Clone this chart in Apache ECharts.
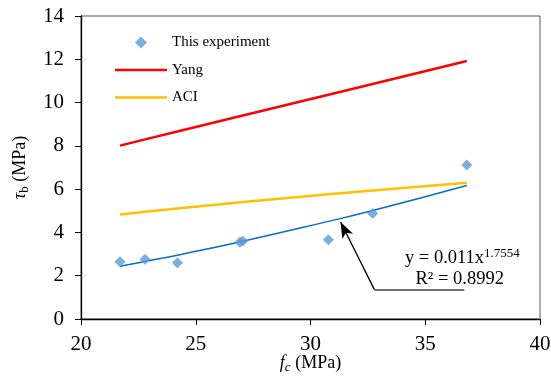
<!DOCTYPE html>
<html><head><meta charset="utf-8">
<script src="https://cdn.jsdelivr.net/npm/echarts@6/dist/echarts.min.js"></script>
<style>html,body{margin:0;padding:0;background:#fff}#c{width:551px;height:376px}</style>
</head><body><div id="c"></div>
<script>
// Experimental points (fc, tau_b)
var expFc  = [21.70, 22.79, 24.20, 26.92, 27.05, 30.78, 32.71, 36.81];
var expTau = [2.65, 2.76, 2.60, 3.55, 3.60, 3.66, 4.88, 7.12];
// Model curves read at the experimental fc values
var modelFc = [21.70, 22.79, 24.20, 26.96, 30.78, 32.71, 36.81];
var yangTau = [8.01, 8.30, 8.66, 9.38, 10.36, 10.86, 11.92];
var aciTau  = [4.83, 4.96, 5.11, 5.39, 5.76, 5.94, 6.30];
var fitTau  = [2.44, 2.66, 2.95, 3.57, 4.51, 5.01, 6.17];
var xTicks = [20, 25, 30, 35, 40];
var yTicks = [0, 2, 4, 6, 8, 10, 12, 14];
var eqText = 'y = 0.011x';
var eqExp = '1.7554';
var r2Text = 'R² = 0.8992';
// annotation anchor points (data space)
var arrowTip = [31.31, 4.48];
var arrowBase = [32.78, 1.37];
var leaderEnd = [36.70, 1.37];
var eqPos = [36.62, 2.80];
var r2Pos = [36.50, 1.84];

function pairs(xs, ys){ return xs.map(function(x,i){return [x, ys[i]];}); }
var FONT = '"Liberation Serif","Times New Roman",serif';
var corners = 'M0,0L0.01,0L0,0.01Z M52,14L51.99,14L52,13.99Z ';
var lineIcon = 'path://' + corners + 'M0,5.8L52,5.8L52,8.2L0,8.2Z';
var diamondIcon = 'path://' + corners + 'M26,1L32,7L26,13L20,7Z';
var chart = echarts.init(document.getElementById('c'));
chart.setOption({
  animation: false,
  textStyle: {fontFamily: FONT},
  grid: {left: 81, right: 11, top: 16, bottom: 57, show: true, borderColor: '#595959', borderWidth: 1,
         containLabel: false, outerBoundsMode: 'none'},
  legend: {
    orient: 'vertical', left: 110, top: 30, itemWidth: 52, itemHeight: 14, itemGap: 12.5,
    textStyle: {fontFamily: FONT, fontSize: 15, color: '#000'},
    data: [
      {name: 'This experiment', icon: diamondIcon, itemStyle: {color: '#5B9BD5'}},
      {name: 'Yang', icon: lineIcon, itemStyle: {color: '#FF0000'}},
      {name: 'ACI', icon: lineIcon, itemStyle: {color: '#FFC000'}}
    ]
  },
  xAxis: {
    type: 'value', min: xTicks[0], max: xTicks[xTicks.length-1], interval: 5,
    name: '{i|f}{s|c} (MPa)', nameLocation: 'middle', nameGap: 34, nameMoveOverlap: false,
    nameTextStyle: {fontFamily: FONT, fontSize: 18, color: '#000',
      rich: {i: {fontStyle: 'italic', fontSize: 18, fontFamily: FONT}, s: {fontStyle: 'italic', fontSize: 13, verticalAlign: 'bottom', padding: [8,0,0,0], fontFamily: FONT}}},
    axisLine: {lineStyle: {color: '#000', width: 1.3}},
    axisTick: {show: true, length: 6, lineStyle: {color: '#000'}},
    axisLabel: {fontFamily: FONT, fontSize: 21, color: '#000', margin: 15},
    splitLine: {show: false}
  },
  yAxis: {
    type: 'value', min: yTicks[0], max: yTicks[yTicks.length-1], interval: 2,
    name: '{t|τ}{s|b} (MPa)', nameLocation: 'middle', nameGap: 50, nameRotate: 90, nameMoveOverlap: false,
    nameTextStyle: {fontFamily: FONT, fontSize: 18, color: '#000',
      rich: {t: {fontStyle: 'italic', fontSize: 18, fontFamily: FONT}, s: {fontSize: 13, fontFamily: FONT, padding: [8,0,0,0]}}},
    axisLine: {show: true, lineStyle: {color: '#000', width: 1.3}},
    axisTick: {show: true, length: 6, lineStyle: {color: '#000'}},
    axisLabel: {fontFamily: FONT, fontSize: 21, color: '#000', margin: 17},
    splitLine: {show: false}
  },
  series: [
    {name: 'This experiment', type: 'scatter', symbol: 'diamond', symbolSize: 11,
     itemStyle: {color: '#5B9BD5'}, data: pairs(expFc, expTau), z: 5},
    {name: 'Yang', type: 'line', showSymbol: false, symbol: 'none', lineStyle: {color: '#FF0000', width: 2.5},
     itemStyle: {color: '#FF0000'}, data: pairs(modelFc, yangTau)},
    {name: 'ACI', type: 'line', showSymbol: false, symbol: 'none', lineStyle: {color: '#FFC000', width: 2.5},
     itemStyle: {color: '#FFC000'}, data: pairs(modelFc, aciTau)},
    {name: 'fit', type: 'line', smooth: true, showSymbol: false, symbol: 'none', lineStyle: {color: '#0070C0', width: 1.5},
     data: pairs(modelFc, fitTau),
     markLine: {silent: true, animation: false, label: {show: false},
       data: [
         [{coord: arrowBase, symbol: 'none', lineStyle: {color: '#000', width: 1.3, type: 'solid'}},
          {coord: arrowTip, symbol: 'arrow', symbolSize: [9, 16]}],
         [{coord: arrowBase, symbol: 'none', lineStyle: {color: '#404040', width: 1.5, type: 'solid'}},
          {coord: leaderEnd, symbol: 'none'}]
       ]},
     markPoint: {silent: true, symbol: 'rect', symbolSize: 1, itemStyle: {color: 'transparent'},
       data: [
         {coord: eqPos, label: {show: true, position: 'inside', fontFamily: FONT, fontSize: 18.5, color: '#000',
           formatter: '{a|' + eqText + '}{b|' + eqExp + '}',
           rich: {a: {fontFamily: FONT, fontSize: 18.5, color: '#000'}, b: {fontFamily: FONT, fontSize: 13, color: '#000', verticalAlign: 'top', padding: [0,0,10,0]}}}},
         {coord: r2Pos, label: {show: true, position: 'inside', fontFamily: FONT, fontSize: 18.5, color: '#000', formatter: r2Text}}
       ]}
    }
  ]
});
</script></body></html>
